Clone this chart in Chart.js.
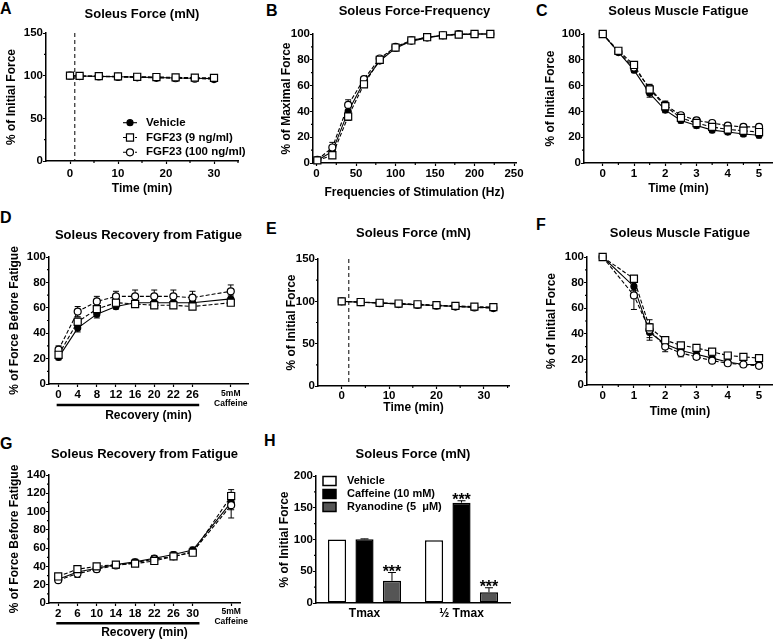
<!DOCTYPE html>
<html lang="en">
<head>
    <meta charset="UTF-8">
    <title>Soleus FGF23 panels</title>
    <style>
        html, body { margin: 0; padding: 0; background: #fff; }
        body { width: 779px; height: 639px; position: relative; overflow: hidden; font-family: "Liberation Sans", Arial, sans-serif; }
        canvas { position: absolute; }
        .lt { position: absolute; font-weight: bold; font-size: 16px; line-height: 16px; color: #000; }
    </style>
</head>
<body>

<div class="lt" style="left:0px;top:1px">A</div>
<div class="lt" style="left:266px;top:3px">B</div>
<div class="lt" style="left:536px;top:3px">C</div>
<div class="lt" style="left:0px;top:210px">D</div>
<div class="lt" style="left:266px;top:221px">E</div>
<div class="lt" style="left:536px;top:217px">F</div>
<div class="lt" style="left:0px;top:436px">G</div>
<div class="lt" style="left:264px;top:433px">H</div>

<canvas id="cA" width="262" height="210" style="left:0px;top:0px"></canvas>
<canvas id="cB" width="270" height="210" style="left:262px;top:0px"></canvas>
<canvas id="cC" width="247" height="210" style="left:532px;top:0px"></canvas>
<canvas id="cD" width="262" height="215" style="left:0px;top:210px"></canvas>
<canvas id="cE" width="270" height="210" style="left:262px;top:210px"></canvas>
<canvas id="cF" width="247" height="210" style="left:532px;top:210px"></canvas>
<canvas id="cG" width="262" height="219" style="left:0px;top:420px"></canvas>
<canvas id="cH" width="270" height="219" style="left:262px;top:420px"></canvas>

<script src="https://cdn.jsdelivr.net/npm/chart.js"></script>

<script>
    // ---- data ----
    // A: force over time
    const aTime = [0, 2, 6, 10, 14, 18, 22, 26, 30];
    const aVehicle = [100, 99.6, 99.2, 98.8, 98.3, 97.8, 97.3, 96.9, 96.5];
    const aFgf9 = [100, 99.7, 99.4, 99.1, 98.7, 98.4, 98.0, 97.7, 97.4];
    const aFgf100 = [100, 99.5, 99.0, 98.5, 98.0, 97.5, 97.0, 96.5, 96.0];

    // B: force-frequency
    const bFreq = [1, 20, 40, 60, 80, 100, 120, 140, 160, 180, 200, 220];
    const bVehicle = [2, 9, 40, 63, 79, 89, 94.5, 97, 99, 99.5, 100, 100];
    const bVehicleErr = [0.5, 2, 3, 2, 1.5, 1, 0.5, 0.5, 0.3, 0.2, 0, 0];
    const bFgf9 = [2, 6, 36, 61, 80, 89.5, 95, 97.5, 99, 99.5, 100, 100];
    const bFgf9Err = [0.5, 2, 3, 2, 1.5, 1, 0.5, 0.5, 0.3, 0.2, 0, 0];
    const bFgf100 = [2.5, 12, 45, 65, 81, 90, 95, 97.5, 99, 100, 100, 100];
    const bFgf100Err = [0.5, 4, 4, 2, 1.5, 1, 0.5, 0.5, 0.3, 0.2, 0, 0];

    // C: fatigue
    const cTime = [0, 0.5, 1, 1.5, 2, 2.5, 3, 3.5, 4, 4.5, 5];
    const cVehicle = [100, 86, 72, 54, 41, 33, 29, 25.5, 24, 22.5, 21.5];
    const cVehicleErr = [0, 1, 2, 3, 2, 2, 2, 2, 2, 2, 2];
    const cFgf9 = [100, 87, 76, 57, 44, 35, 31, 28, 26, 25, 24];
    const cFgf9Err = [0, 1, 2, 3, 3, 2, 2, 2, 2, 2, 2];
    const cFgf100 = [100, 86, 74, 58, 45, 37, 33, 31, 29, 28, 28];
    const cFgf100Err = [0, 1, 2, 3, 3, 2, 2, 2, 2, 2, 2];

    // D: recovery from fatigue
    const dLabels = ['0', '4', '8', '12', '16', '20', '22', '26', '5mM Caffeine'];
    const dSlots = [0, 1, 2, 3, 4, 5, 6, 7, 9];
    const dVehicle = [21, 44, 55, 61, 64, 64, 64, 64, 67];
    const dVehicleErr = [2, 3, 3, 2, 2, 2, 2, 2, 3];
    const dFgf9 = [23, 49, 59, 64, 63, 62, 62, 61, 64];
    const dFgf9Err = [3, 3, 3, 2, 2, 2, 2, 2, 2];
    const dFgf100 = [27, 57, 65, 69, 69, 69, 69, 68, 73];
    const dFgf100Err = [3, 4, 4, 4, 5, 5, 5, 5, 5];

    // E: force over time
    const eTime = [0, 4, 8, 12, 16, 20, 24, 28, 32];
    const eVehicle = [100, 99, 98, 97, 96, 95, 94, 93, 92.5];
    const eFgf9 = [100, 99.2, 98.3, 97.4, 96.5, 95.5, 94.6, 93.8, 93.2];
    const eFgf100 = [100, 99, 97.8, 96.8, 95.8, 94.8, 93.8, 92.8, 92];

    // F: fatigue
    const fTime = [0, 1, 1.5, 2, 2.5, 3, 3.5, 4, 4.5, 5];
    const fVehicle = [100, 77, 41, 32, 27, 24, 21, 18, 16, 16];
    const fVehicleErr = [0, 3, 4, 2, 2, 2, 1, 1, 1, 1];
    const fFgf9 = [100, 83, 45, 35, 31, 29, 26, 23, 22, 21];
    const fFgf9Err = [0, 2, 3, 2, 1, 1, 1, 1, 1, 1];
    const fFgf100 = [100, 70, 43, 30, 25, 22, 19, 17, 16, 15];
    const fFgf100Err = [0, 11, 8, 4, 3, 2, 2, 1, 1, 1];

    // G: recovery from fatigue
    const gLabels = ['2', '6', '10', '14', '18', '22', '26', '30', '5mM Caffeine'];
    const gSlots = [0, 1, 2, 3, 4, 5, 6, 7, 9];
    const gVehicle = [26, 34, 38, 42, 45, 49, 53, 58, 110];
    const gVehicleErr = [2, 3, 3, 3, 3, 3, 3, 3, 8];
    const gFgf9 = [29, 37, 40, 42, 43, 46, 51, 55, 117];
    const gFgf9Err = [2, 2, 2, 3, 3, 3, 3, 3, 7];
    const gFgf100 = [25, 32, 37, 41, 44, 48, 51, 56, 107];
    const gFgf100Err = [2, 4, 3, 3, 3, 3, 3, 3, 14];

    // H: bars
    const hCats = ['Tmax', '½ Tmax'];
    const hVehicle = [100, 99];
    const hCaffeine = [100.5, 158];
    const hCaffeineErr = [0.5, 3];
    const hCaffeineStars = ['', '***'];
    const hRyanodine = [35, 17];
    const hRyanodineErr = [13, 7];
    const hRyanodineStars = ['***', '***'];

    // ---- helpers ----
    Chart.defaults.font.family = '"Liberation Sans", Arial, sans-serif';
    Chart.defaults.font.weight = 'bold';
    Chart.defaults.color = '#000';

    const pts = (xs, ys) => xs.map((x, i) => ({x: x, y: ys[i]}));

    function seriesSets(xs, v, ve, f9, f9e, f100, f100e) {
        return [
            {label: 'Vehicle', data: pts(xs, v), err: ve, order: 2, borderDash: [], pointStyle: 'circle', pointRadius: 3, pointBackgroundColor: '#000'},
            {label: 'FGF23 (9 ng/ml)', data: pts(xs, f9), err: f9e, order: 0, borderDash: [4, 2], pointStyle: 'rect', pointRadius: 5, pointBackgroundColor: '#fff'},
            {label: 'FGF23 (100 ng/ml)', data: pts(xs, f100), err: f100e, order: 1, borderDash: [4, 2], pointStyle: 'circle', pointRadius: 3.5, pointBackgroundColor: '#fff'}
        ].map(d => Object.assign({
            borderColor: '#000', borderWidth: 1.1, pointBorderColor: '#000', pointBorderWidth: 1.2,
            pointHoverRadius: 0, fill: false, tension: 0, clip: false
        }, d));
    }

    function axis(o) {
        const ticks = {
            color: '#000', font: o.font || {size: 11.5, weight: 'bold'}, padding: o.tickPad,
            autoSkip: false, maxRotation: 0, minRotation: 0
        };
        if (o.cb) ticks.callback = o.cb;
        const a = {
            type: o.type || 'linear',
            position: o.pos,
            grid: {display: true, drawOnChartArea: false, drawTicks: !o.noTicks, tickLength: 3, tickColor: '#000', tickWidth: 1.2},
            border: {display: true, color: '#000', width: 1.5},
            ticks: ticks,
            title: {
                display: !!o.title, text: o.title || '', color: '#000',
                font: {size: 12, weight: 'bold', lineHeight: o.titleLH || 1.2}, padding: o.titlePad || 0
            },
            afterFit: s => {
                if (o.pos === 'left') s.width = o.size; else s.height = o.size;
            }
        };
        if (o.min !== undefined) { a.min = o.min; a.max = o.max; }
        if (o.values) a.afterBuildTicks = s => { s.ticks = o.values.map(v => ({value: v})); };
        return a;
    }

    function drawMarker(ctx, ds, x, y) {
        ctx.beginPath();
        if (ds.pointStyle === 'rect') {
            const s = ds.pointRadius * Math.SQRT1_2;
            ctx.rect(x - s, y - s, 2 * s, 2 * s);
        } else {
            ctx.arc(x, y, ds.pointRadius, 0, Math.PI * 2);
        }
        ctx.fillStyle = ds.pointBackgroundColor;
        ctx.fill();
        ctx.lineWidth = 1.2;
        ctx.strokeStyle = '#000';
        ctx.stroke();
    }

    function seg(ctx, x1, y1, x2, y2) {
        ctx.beginPath(); ctx.moveTo(x1, y1); ctx.lineTo(x2, y2); ctx.stroke();
    }

    // error bars, dashed marker line, minor ticks, bracket, legends, stars
    const extras = {
        id: 'extras',
        beforeDatasetsDraw(chart, args, o) {
            const ctx = chart.ctx, area = chart.chartArea, xs = chart.scales.x, ys = chart.scales.y;
            ctx.save();
            ctx.strokeStyle = '#000';
            if (o.vline !== undefined) {
                const px = xs.getPixelForValue(o.vline);
                ctx.lineWidth = 1;
                ctx.setLineDash([4, 3]);
                seg(ctx, px, area.top, px, area.bottom);
                ctx.setLineDash([]);
            }
            ctx.lineWidth = 1;
            chart.data.datasets.forEach((ds, di) => {
                if (!ds.err) return;
                const meta = chart.getDatasetMeta(di);
                meta.data.forEach((el, i) => {
                    const e = ds.err[i];
                    if (!e) return;
                    const raw = ds.data[i];
                    const v = typeof raw === 'object' ? raw.y : raw;
                    const top = ys.getPixelForValue(v + e);
                    const bot = o.errUp ? el.y : ys.getPixelForValue(v - e);
                    const c = o.cap || 3;
                    seg(ctx, el.x, top, el.x, bot);
                    seg(ctx, el.x - c, top, el.x + c, top);
                    if (!o.errUp) seg(ctx, el.x - c, bot, el.x + c, bot);
                });
            });
            ctx.restore();
        },
        afterDraw(chart, args, o) {
            const ctx = chart.ctx, area = chart.chartArea, xs = chart.scales.x, ys = chart.scales.y;
            ctx.save();
            ctx.strokeStyle = '#000';
            ctx.lineWidth = 1.2;
            (o.minorX || []).forEach(v => {
                const px = xs.getPixelForValue(v);
                seg(ctx, px, area.bottom, px, area.bottom + 2);
            });
            (o.minorY || []).forEach(v => {
                const py = ys.getPixelForValue(v);
                seg(ctx, area.left - 2, py, area.left, py);
            });
            if (o.bracket) {
                ctx.lineWidth = 2.5;
                const y = xs.top + o.bracket.dy;
                seg(ctx, xs.getPixelForValue(o.bracket.from), y, xs.getPixelForValue(o.bracket.to), y);
            }
            if (o.legend) {
                const L = o.legend;
                ctx.font = 'bold ' + L.size + 'px "Liberation Sans", Arial, sans-serif';
                ctx.textBaseline = 'middle';
                ctx.textAlign = 'left';
                chart.data.datasets.forEach((ds, i) => {
                    const x0 = area.left + L.x, y = area.top + L.y + i * L.dy;
                    ctx.strokeStyle = '#000';
                    if (L.kind === 'line') {
                        ctx.lineWidth = 1.1;
                        ctx.setLineDash(ds.borderDash || []);
                        seg(ctx, x0, y, x0 + 14, y);
                        ctx.setLineDash([]);
                        drawMarker(ctx, ds, x0 + 7, y);
                    } else {
                        ctx.fillStyle = ds.backgroundColor;
                        ctx.fillRect(x0, y - 4.5, 13, 9);
                        ctx.lineWidth = 1.5;
                        ctx.strokeRect(x0, y - 4.5, 13, 9);
                    }
                    ctx.fillStyle = '#000';
                    ctx.fillText(ds.label, x0 + L.tx, y);
                });
            }
            chart.data.datasets.forEach((ds, di) => {
                if (!ds.stars) return;
                const meta = chart.getDatasetMeta(di);
                ctx.font = 'bold 16px "Liberation Sans", Arial, sans-serif';
                ctx.textAlign = 'center';
                ctx.textBaseline = 'alphabetic';
                ctx.fillStyle = '#000';
                meta.data.forEach((el, i) => {
                    const s = ds.stars[i];
                    if (!s) return;
                    const top = ys.getPixelForValue(ds.data[i] + (ds.err ? ds.err[i] : 0));
                    ctx.fillText(s, el.x, top + (o.starDy || 0));
                });
            });
            ctx.restore();
        }
    };

    function build(id, p) {
        return new Chart(document.getElementById(id), {
            type: p.type || 'line',
            data: p.data,
            options: {
                responsive: false,
                animation: false,
                devicePixelRatio: 1,
                events: [],
                layout: {padding: {left: 0, top: 0, right: p.padRight, bottom: 0}},
                plugins: {
                    legend: {display: false},
                    tooltip: {enabled: false},
                    title: {
                        display: true, text: p.title, fullSize: false, color: '#000',
                        font: {size: 13, weight: 'bold', lineHeight: 1.2},
                        padding: {top: p.titleTop, bottom: p.titleBottom}
                    },
                    extras: p.extras || {}
                },
                scales: {x: p.x, y: p.y},
                datasets: {bar: {categoryPercentage: 0.85, barPercentage: 0.66}}
            },
            plugins: [extras]
        });
    }

    const slotLabel = (labels, slots) => v => {
        const i = slots.indexOf(v);
        if (i < 0) return '';
        const l = labels[i];
        return l.indexOf(' ') > 0 ? l.split(' ') : l;
    };
    const slotFont = c => (c.tick && c.tick.value === 9)
        ? {size: 8.5, weight: 'bold', lineHeight: 1.2}
        : {size: 11.5, weight: 'bold'};

    // ---- A ----
    build('cA', {
        title: 'Soleus Force (mN)', titleTop: 6.2, titleBottom: 11.2, padRight: 24,
        data: {datasets: seriesSets(aTime, aVehicle, null, aFgf9, null, aFgf100, null)},
        x: axis({pos: 'bottom', size: 49, min: -5, max: 35, values: [0, 10, 20, 30], tickPad: 3, title: 'Time (min)', titlePad: {bottom: 13.8}}),
        y: axis({pos: 'left', size: 46, min: 0, max: 150, values: [0, 50, 100, 150], tickPad: 0, title: '% of Initial Force', titlePad: {top: 4.8}}),
        extras: {vline: 1, minorX: [5, 15, 25, 35], minorY: [25, 75, 125], legend: {kind: 'line', size: 11.5, x: 77, y: 89.7, dy: 14.8, tx: 23}}
    });

    // ---- B ----
    build('cB', {
        title: 'Soleus Force-Frequency', titleTop: 3.2, titleBottom: 15.2, padRight: 16,
        data: {datasets: seriesSets(bFreq, bVehicle, bVehicleErr, bFgf9, bFgf9Err, bFgf100, bFgf100Err)},
        x: axis({pos: 'bottom', size: 47, min: -4.5, max: 252.5, values: [0, 50, 100, 150, 200, 250], tickPad: 1.2, title: 'Frequencies of Stimulation (Hz)', titlePad: {bottom: 9.8}}),
        y: axis({pos: 'left', size: 51, min: 0, max: 100, values: [0, 20, 40, 60, 80, 100], tickPad: 0, title: '% of Maximal Force', titlePad: {top: 17.5}}),
        extras: {minorX: [25, 75, 125, 175, 225], minorY: [10, 30, 50, 70, 90]}
    });

    // ---- C ----
    build('cC', {
        title: 'Soleus Muscle Fatigue', titleTop: 3.2, titleBottom: 15.2, padRight: 2,
        data: {datasets: seriesSets(cTime, cVehicle, cVehicleErr, cFgf9, cFgf9Err, cFgf100, cFgf100Err)},
        x: axis({pos: 'bottom', size: 47, min: -0.6, max: 5.44, values: [0, 1, 2, 3, 4, 5], tickPad: 1.2, title: 'Time (min)', titlePad: {bottom: 13.8}}),
        y: axis({pos: 'left', size: 52, min: 0, max: 100, values: [0, 20, 40, 60, 80, 100], tickPad: 0, title: '% of Initial Force', titlePad: {top: 11.5}}),
        extras: {minorX: [0.5, 1.5, 2.5, 3.5, 4.5], minorY: [10, 30, 50, 70, 90]}
    });

    // ---- D ----
    build('cD', {
        title: 'Soleus Recovery from Fatigue', titleTop: 17.2, titleBottom: 14.2, padRight: 14,
        data: {datasets: seriesSets(dSlots, dVehicle, dVehicleErr, dFgf9, dFgf9Err, dFgf100, dFgf100Err)},
        x: axis({pos: 'bottom', size: 41, min: -0.5, max: 9.9, values: dSlots, tickPad: 1.2, cb: slotLabel(dLabels, dSlots), font: slotFont, title: 'Recovery (min)', titlePad: {bottom: 1.8}}),
        y: axis({pos: 'left', size: 49, min: 0, max: 100, values: [0, 20, 40, 60, 80, 100], tickPad: 0, title: '% of Force Before Fatigue', titlePad: {top: 7.8}}),
        extras: {minorY: [10, 30, 50, 70, 90], bracket: {from: -0.1, to: 7.35, dy: 21}}
    });

    // ---- E ----
    build('cE', {
        title: 'Soleus Force (mN)', titleTop: 15.5, titleBottom: 17.9, padRight: 23,
        data: {datasets: seriesSets(eTime, eVehicle, null, eFgf9, null, eFgf100, null)},
        x: axis({pos: 'bottom', size: 34, min: -5, max: 35.3, values: [0, 10, 20, 30], tickPad: 0, title: 'Time (min)', titlePad: {bottom: 5.1}}),
        y: axis({pos: 'left', size: 56, min: 0, max: 150, values: [0, 50, 100, 150], tickPad: 0, title: '% of Initial Force', titlePad: {top: 22.5}}),
        extras: {vline: 1.5, minorX: [5, 15, 25, 35], minorY: [25, 75, 125]}
    });

    // ---- F ----
    build('cF', {
        title: 'Soleus Muscle Fatigue', titleTop: 15.2, titleBottom: 16.2, padRight: 2,
        data: {datasets: seriesSets(fTime, fVehicle, fVehicleErr, fFgf9, fFgf9Err, fFgf100, fFgf100Err)},
        x: axis({pos: 'bottom', size: 35, min: -0.5, max: 5.44, values: [0, 1, 2, 3, 4, 5], tickPad: 0.9, title: 'Time (min)', titlePad: {bottom: 1.1}}),
        y: axis({pos: 'left', size: 55, min: 0, max: 100, values: [0, 20, 40, 60, 80, 100], tickPad: 0, title: '% of Initial Force', titlePad: {top: 12.5}}),
        extras: {minorX: [0.5, 1.5, 2.5, 3.5, 4.5], minorY: [10, 30, 50, 70, 90]}
    });

    // ---- G ----
    build('cG', {
        title: 'Soleus Recovery from Fatigue', titleTop: 26.2, titleBottom: 13.2, padRight: 22,
        data: {datasets: seriesSets(gSlots, gVehicle, gVehicleErr, gFgf9, gFgf9Err, gFgf100, gFgf100Err)},
        x: axis({pos: 'bottom', size: 36, min: -0.48, max: 9.46, values: gSlots, tickPad: 0.5, cb: slotLabel(gLabels, gSlots), font: slotFont, title: 'Recovery (min)', titleLH: 1, titlePad: {bottom: 0.3}}),
        y: axis({pos: 'left', size: 49, min: 0, max: 140, values: [0, 20, 40, 60, 80, 100, 120, 140], tickPad: 0, title: '% of Force Before Fatigue', titlePad: {top: 7.8}}),
        extras: {minorY: [10, 30, 50, 70, 90, 110, 130], bracket: {from: -0.1, to: 7.35, dy: 20.3}}
    });

    // ---- H ----
    build('cH', {
        type: 'bar',
        title: 'Soleus Force (mN)', titleTop: 26.2, titleBottom: 14.2, padRight: 22,
        data: {
            labels: hCats,
            datasets: [
                {label: 'Vehicle', data: hVehicle, backgroundColor: '#fff', borderColor: '#000', borderWidth: 1.5, borderSkipped: false},
                {label: 'Caffeine (10 mM)', data: hCaffeine, err: hCaffeineErr, stars: hCaffeineStars, backgroundColor: '#000', borderColor: '#000', borderWidth: 1.5, borderSkipped: false},
                {label: 'Ryanodine (5  μM)', data: hRyanodine, err: hRyanodineErr, stars: hRyanodineStars, backgroundColor: '#555', borderColor: '#000', borderWidth: 1.5, borderSkipped: false}
            ]
        },
        x: axis({type: 'category', pos: 'bottom', size: 36, noTicks: true, tickPad: 3.1, font: {size: 12, weight: 'bold'}}),
        y: axis({pos: 'left', size: 54, min: 0, max: 200, values: [0, 50, 100, 150, 200], tickPad: 0, title: '% of Initial Force', titlePad: {top: 15.8}}),
        extras: {errUp: true, cap: 4, starDy: 4, minorY: [25, 75, 125, 175], legend: {kind: 'box', size: 11, x: 7, y: 5, dy: 13, tx: 24}}
    });
</script>

</body>
</html>
